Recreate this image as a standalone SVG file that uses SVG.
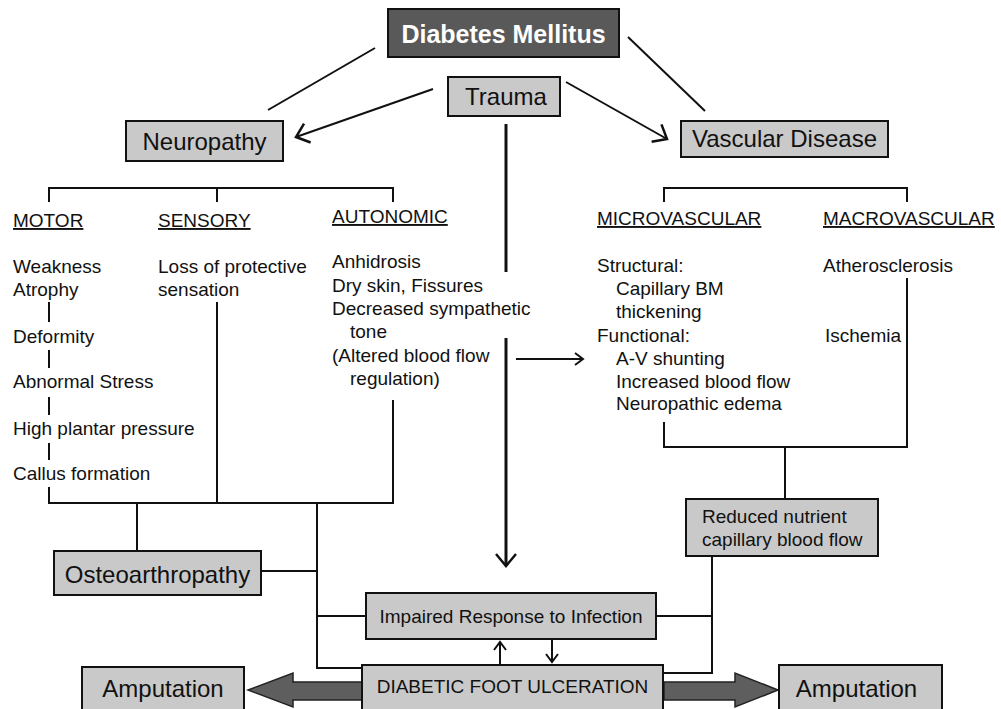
<svg xmlns="http://www.w3.org/2000/svg" width="1001" height="709" viewBox="0 0 1001 709">
<defs>
<style>
.box{fill:#c9c9c9;stroke:#111;stroke-width:2}
.dark{fill:#595959;stroke:#111;stroke-width:2}
.fat{fill:#5e5e5e;stroke:#222;stroke-width:1.5}
.t{font-family:"Liberation Sans",Arial,sans-serif;font-size:19px;fill:#111}
.lbl{font-family:"Liberation Sans",Arial,sans-serif;font-size:24px;fill:#111}
.u{text-decoration:underline}
.ln{fill:none;stroke:#111;stroke-width:2}
.thick{fill:none;stroke:#111;stroke-width:3}
</style>
<marker id="ah" markerUnits="userSpaceOnUse" markerWidth="20" markerHeight="24" refX="14" refY="12" orient="auto">
<path d="M2,2 L14,12 L2,22" fill="none" stroke="#111" stroke-width="2.5"/>
</marker>
<marker id="ahs" markerUnits="userSpaceOnUse" markerWidth="14" markerHeight="16" refX="10" refY="8" orient="auto">
<path d="M2,2 L10,8 L2,14" fill="none" stroke="#111" stroke-width="2"/>
</marker>
</defs>
<rect width="1001" height="709" fill="#fff"/>

<g id="connectors">
<path class="ln" d="M375,48 L268,110"/>
<path class="ln" d="M628,37 L705,111"/>
<path class="ln" d="M433,89 L296,137" marker-end="url(#ah)"/>
<path class="ln" d="M566,82 L667,139" marker-end="url(#ah)"/>
<path class="thick" d="M506,124 V272"/>
<path class="thick" d="M506,338 V566" marker-end="url(#ah)"/>
<path class="ln" d="M49,202 V188 H393 V202"/>
<path class="ln" d="M217,188 V202"/>
<path class="ln" d="M49,302 V322 M49,350 V368 M49,397 V415 M49,443 V460"/>
<path class="ln" d="M49,487 V503 H394"/>
<path class="ln" d="M217,302 V503"/>
<path class="ln" d="M393,400 V503"/>
<path class="ln" d="M137,503 V551"/>
<path class="ln" d="M317,503 V668 H362"/>
<path class="ln" d="M261,571 H317"/>
<path class="ln" d="M317,616 H366"/>
<path class="ln" d="M664,202 V188 H907 V202"/>
<path class="ln" d="M907,278 V447 H664 V422"/>
<path class="ln" d="M785,447 V499"/>
<path class="ln" d="M712,556 V673 H664"/>
<path class="ln" d="M656,616 H712"/>
<path class="ln" d="M516,359 H583" marker-end="url(#ahs)"/>
<path class="ln" d="M500,665 V642" marker-end="url(#ahs)"/>
<path class="ln" d="M552,640 V662" marker-end="url(#ahs)"/>
<polygon class="fat" points="362,682 293,682 293,673 248,690 293,707 293,700 362,700"/>
<polygon class="fat" points="664,682 735,682 735,673 778,690 735,707 735,700 664,700"/>
</g>

<g id="diabetes">
<rect class="dark" x="388" y="9" width="231" height="48"/>
<text x="503.5" y="43" text-anchor="middle" font-family="Liberation Sans, Arial, sans-serif" font-size="25" font-weight="bold" fill="#fff">Diabetes Mellitus</text>
</g>
<g id="trauma">
<rect class="box" x="448" y="77" width="112" height="39"/>
<text class="lbl" x="506" y="105" text-anchor="middle">Trauma</text>
</g>
<g id="neuropathy">
<rect class="box" x="126" y="121" width="157" height="40"/>
<text class="lbl" x="204.5" y="150" text-anchor="middle">Neuropathy</text>
</g>
<g id="vascular">
<rect class="box" x="681" y="121" width="207" height="36"/>
<text class="lbl" x="784.5" y="147" text-anchor="middle" font-size="23.5">Vascular Disease</text>
</g>

<g id="motor">
<text class="t u" x="13" y="227">MOTOR</text>
<text class="t" x="13" y="273">Weakness</text>
<text class="t" x="13" y="296">Atrophy</text>
<text class="t" x="13" y="343">Deformity</text>
<text class="t" x="13" y="388">Abnormal Stress</text>
<text class="t" x="13" y="435">High plantar pressure</text>
<text class="t" x="13" y="480">Callus formation</text>
</g>
<g id="sensory">
<text class="t u" x="158" y="227">SENSORY</text>
<text class="t" x="158" y="273">Loss of protective</text>
<text class="t" x="158" y="296">sensation</text>
</g>
<g id="autonomic">
<text class="t u" x="332" y="223">AUTONOMIC</text>
<text class="t" x="332" y="268">Anhidrosis</text>
<text class="t" x="332" y="292">Dry skin, Fissures</text>
<text class="t" x="332" y="315">Decreased sympathetic</text>
<text class="t" x="350" y="338">tone</text>
<text class="t" x="332" y="362">(Altered blood flow</text>
<text class="t" x="350" y="385">regulation)</text>
</g>
<g id="microvascular">
<text class="t u" x="597" y="225">MICROVASCULAR</text>
<text class="t" x="597" y="272">Structural:</text>
<text class="t" x="616" y="295">Capillary BM</text>
<text class="t" x="616" y="318">thickening</text>
<text class="t" x="597" y="342">Functional:</text>
<text class="t" x="616" y="365">A-V shunting</text>
<text class="t" x="616" y="388">Increased blood flow</text>
<text class="t" x="616" y="410">Neuropathic edema</text>
</g>
<g id="macrovascular">
<text class="t u" x="823" y="225">MACROVASCULAR</text>
<text class="t" x="823" y="272">Atherosclerosis</text>
<text class="t" x="825" y="342">Ischemia</text>
</g>

<g id="osteoarthropathy">
<rect class="box" x="54" y="551" width="207" height="44"/>
<text class="lbl" x="157.5" y="583" text-anchor="middle">Osteoarthropathy</text>
</g>
<g id="reduced">
<rect class="box" x="686" y="499" width="192" height="57"/>
<text class="t" x="702" y="523">Reduced nutrient</text>
<text class="t" x="702" y="546">capillary blood flow</text>
</g>
<g id="impaired">
<rect class="box" x="366" y="593" width="290" height="46"/>
<text class="t" x="511" y="623" text-anchor="middle">Impaired Response to Infection</text>
</g>
<g id="ulceration">
<rect class="box" x="362" y="665" width="301" height="46"/>
<text class="t" x="512.5" y="693" text-anchor="middle">DIABETIC FOOT ULCERATION</text>
</g>
<g id="amputation-left">
<rect class="box" x="82" y="667" width="162" height="44"/>
<text class="lbl" x="163" y="697" text-anchor="middle">Amputation</text>
</g>
<g id="amputation-right">
<rect class="box" x="779" y="665" width="163" height="46"/>
<text class="lbl" x="856.5" y="697" text-anchor="middle">Amputation</text>
</g>
</svg>
